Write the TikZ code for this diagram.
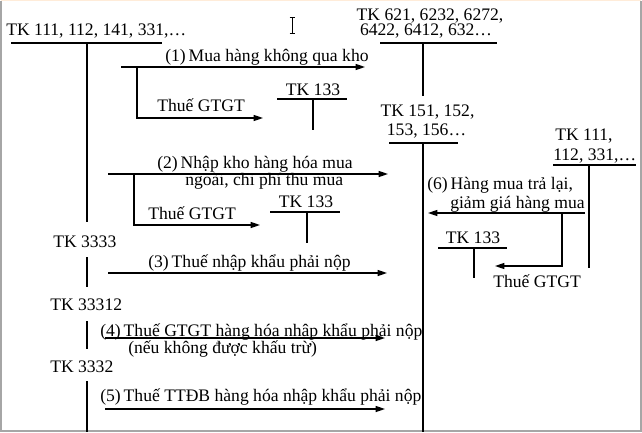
\documentclass[tikz,border=0pt]{standalone}
\usepackage{fontspec}
\setmainfont{Liberation Serif}
\usetikzlibrary{arrows.meta}
\begin{document}
\begin{tikzpicture}[x=0.75pt,y=-0.75pt,
  lbl/.style={anchor=base west,inner sep=0pt,font=\fontsize{13.2}{16}\selectfont},
  lblc/.style={anchor=base,inner sep=0pt,font=\fontsize{13.2}{16}\selectfont},
  acct/.style={line width=1.5pt},
  arr/.style={line width=1pt,-{Triangle[length=7pt,width=4.5pt]}}]
\useasboundingbox (0,0) rectangle (642,432);
% frame
\draw[gray!70,line width=1.5pt] (0.75,0.75) -- (0.75,431.2) -- (640.8,431.2) -- (640.8,0.75);
\draw[orange!15,line width=1pt] (0.75,0.75) -- (640.8,0.75);
% cursor
\draw[line width=0.7pt] (292,17) -- (292,33) (289.5,17) -- (294.5,17) (289.5,33) -- (294.5,33);

% account TK 111,112,141,331
\node[lbl] (tkA) at (6,35) {TK 111, 112, 141, 331,…};
\coordinate (aL) at (11,43); \coordinate (aR) at (162,43);
\coordinate (aT) at (87,43);
\draw[acct] (aL) -- (aR);
\node[lbl] (tk3333) at (53,247) {TK 3333};
\node[lbl] (tk33312) at (50,310) {TK 33312};
\node[lbl] (tk3332) at (50,372) {TK 3332};
\coordinate (v1a) at (87,222); \coordinate (v2a) at (87,257); \coordinate (v2b) at (87,287);
\coordinate (v3a) at (87,321); \coordinate (v3b) at (87,349);
\coordinate (v4a) at (87,381); \coordinate (v4b) at (87,432);
\draw[acct] (aT) -- (v1a) (v2a) -- (v2b) (v3a) -- (v3b) (v4a) -- (v4b);

% account TK 621 ...
\node[lblc] (tkB1) at (430,20) {TK 621, 6232, 6272,};
\node[lblc] (tkB2) at (426,36) {6422, 6412, 632…};
\coordinate (bL) at (380,43); \coordinate (bR) at (497,43);
\coordinate (bT) at (423,43); \coordinate (bB) at (423,96);
\draw[acct] (bL) -- (bR) (bT) -- (bB);

% account TK 151 ...
\node[lblc] (tkC1) at (427.5,116) {TK 151, 152,};
\node[lblc] (tkC2) at (426.5,135) {153, 156…};
\coordinate (cL) at (389,143); \coordinate (cR) at (458,143);
\coordinate (cT) at (423,143); \coordinate (cB) at (423,432);
\draw[acct] (cL) -- (cR) (cT) -- (cB);

% account TK 111,112,331 (right)
\node[lbl] (tkD1) at (555,140) {TK 111,};
\node[lbl] (tkD2) at (553,160) {112, 331,…};
\coordinate (dL) at (553,165); \coordinate (dR) at (636,165);
\coordinate (dT) at (589,165); \coordinate (dB) at (589,268);
\draw[acct] (dL) -- (dR) (dT) -- (dB);

% TK 133 (a)
\node[lblc] (t133a) at (313,95) {TK 133};
\coordinate (eL) at (277,99); \coordinate (eR) at (347,99);
\coordinate (eT) at (313,99); \coordinate (eB) at (313,130);
\draw[acct] (eL) -- (eR) (eT) -- (eB);
% TK 133 (b)
\node[lblc] (t133b) at (306,207) {TK 133};
\coordinate (fL) at (270,212); \coordinate (fR) at (340,212);
\coordinate (fT) at (307,212); \coordinate (fB) at (307,243);
\draw[acct] (fL) -- (fR) (fT) -- (fB);
% TK 133 (c)
\node[lblc] (t133c) at (473,243) {TK 133};
\coordinate (gL) at (438,248); \coordinate (gR) at (507,248);
\coordinate (gT) at (474,248); \coordinate (gB) at (474,278);
\draw[acct] (gL) -- (gR) (gT) -- (gB);

% (1)
\coordinate (p1s) at (121,67); \coordinate (p1e) at (365,67);
\coordinate (p1b) at (137,67); \coordinate (p1c) at (137,118); \coordinate (p1d) at (263,118);
\draw[arr] (p1s) -- (p1e);
\draw[arr] (p1b) -- (p1c) -- (p1d);
\node[lbl] (l1) at (165,61) {(1)\,Mua hàng không qua kho};
\node[lbl] (g1) at (157,111) {Thuế GTGT};

% (2)
\coordinate (p2s) at (108,174); \coordinate (p2e) at (388,174);
\coordinate (p2b) at (134,174); \coordinate (p2c) at (134,225); \coordinate (p2d) at (260,225);
\draw[arr] (p2s) -- (p2e);
\draw[arr] (p2b) -- (p2c) -- (p2d);
\node[lbl] (l2a) at (157,168) {(2)\,Nhập kho hàng hóa mua};
\node[lbl] (l2b) at (185,185) {ngoài, chi phí thu mua};
\node[lbl] (g2) at (148,219) {Thuế GTGT};

% (3)
\coordinate (p3s) at (108,273); \coordinate (p3e) at (387,273);
\draw[arr] (p3s) -- (p3e);
\node[lbl] (l3) at (148,267) {(3)\,Thuế nhập khẩu phải nộp};

% (4)
\coordinate (p4s) at (105,338); \coordinate (p4e) at (385,338);
\draw[arr] (p4s) -- (p4e);
\node[lbl] (l4a) at (100,336) {(4)\,Thuế GTGT hàng hóa nhập khẩu phải nộp};
\node[lbl] (l4b) at (128,353) {(nếu không được khấu trừ)};

% (5)
\coordinate (p5s) at (105,409); \coordinate (p5e) at (385,409);
\draw[arr] (p5s) -- (p5e);
\node[lbl] (l5) at (100,401) {(5)\,Thuế TTĐB hàng hóa nhập khẩu phải nộp};

% (6)
\coordinate (p6s) at (585,213); \coordinate (p6e) at (428,213);
\coordinate (p6b) at (562,213); \coordinate (p6c) at (562,266); \coordinate (p6d) at (495,266);
\draw[arr] (p6s) -- (p6e);
\draw[arr] (p6b) -- (p6c) -- (p6d);
\node[lbl] (l6a) at (427,189) {(6)\,Hàng mua trả lại,};
\node[lbl] (l6b) at (450,208) {giảm giá hàng mua};
\node[lbl] (g3) at (493,287) {Thuế GTGT};
\end{tikzpicture}
\end{document}
